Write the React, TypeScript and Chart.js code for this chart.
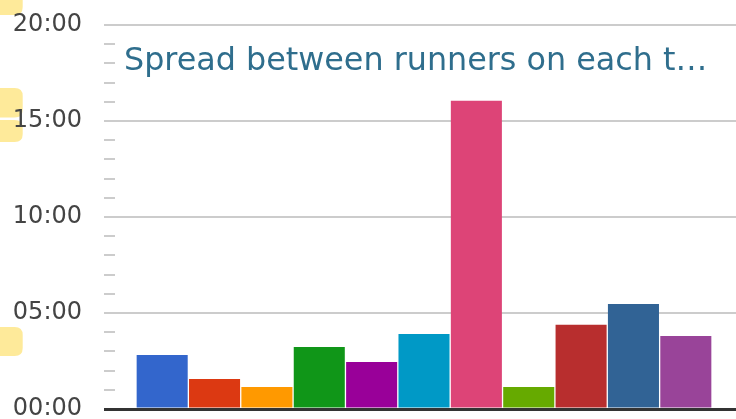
import React, { useEffect, useRef } from "react";
import { Chart, registerables } from "chart.js";

Chart.register(...registerables);

const categories = [""];
const seriesNames = [
  "Stage 1", "Stage 2", "Stage 3", "Stage 4", "Stage 5", "Stage 6",
  "Stage 7", "Stage 8", "Stage 9", "Stage 10", "Stage 11",
];
// spread in seconds
const spreadSeconds = [169, 94, 69, 194, 147, 234, 963, 69, 263, 328, 228];
const seriesColors = [
  "#3366cc", "#dc3912", "#ff9900", "#109618", "#990099", "#0099c6",
  "#dd4477", "#66aa00", "#b82e2e", "#316395", "#994499",
];
const yMax = 1200;
const yStep = 60;
const labelStep = 300;
const titleText = "Spread between runners on each t\u2026";

function fmt(sec: number): string {
  const m = Math.floor(sec / 60);
  const s = Math.round(sec % 60);
  return String(m).padStart(2, "0") + ":" + String(s).padStart(2, "0");
}

const decorPlugin = {
  id: "decor",
  beforeDraw(chart: any) {
    const { ctx } = chart;
    ctx.save();
    // yellow highlight tabs at left edge (behind labels)
    const blobs = [
      [-20, 15],
      [88, 117.5],
      [120, 142],
      [327, 356],
    ];
    ctx.fillStyle = "#feea9a";
    for (const [t, b] of blobs) {
      const r = 8;
      const x0 = -10;
      const x1 = 22.7;
      ctx.beginPath();
      ctx.moveTo(x0, t);
      ctx.lineTo(x1 - r, t);
      ctx.quadraticCurveTo(x1, t, x1, t + r);
      ctx.lineTo(x1, b - r);
      ctx.quadraticCurveTo(x1, b, x1 - r, b);
      ctx.lineTo(x0, b);
      ctx.closePath();
      ctx.fill();
    }
    ctx.restore();
  },
  beforeDatasetsDraw(chart: any) {
    const { ctx, chartArea, scales } = chart;
    const y = scales.y;
    ctx.save();
    ctx.strokeStyle = "#cccccc";
    ctx.lineWidth = 2;
    for (let v = yStep; v < yMax; v += yStep) {
      if (v % labelStep === 0) continue;
      const py = Math.round(y.getPixelForValue(v));
      ctx.beginPath();
      ctx.moveTo(chartArea.left, py);
      ctx.lineTo(chartArea.left + 11, py);
      ctx.stroke();
    }
    ctx.restore();
  },
  afterDraw(chart: any) {
    const { ctx } = chart;
    ctx.save();
    ctx.fillStyle = "#2f6e8d";
    ctx.font = '31.8px "DejaVu Sans"';
    ctx.textAlign = "left";
    ctx.textBaseline = "alphabetic";
    ctx.fillText(titleText, 124, 70);
    ctx.restore();
  },
};

export default function App() {
  const ref = useRef<HTMLCanvasElement | null>(null);
  useEffect(() => {
    if (!ref.current) return;
    const chart = new Chart(ref.current, {
      type: "bar",
      data: {
        labels: categories,
        datasets: seriesNames.map((name, i) => ({
          label: name,
          data: [spreadSeconds[i]],
          backgroundColor: seriesColors[i],
          borderWidth: 0,
          categoryPercentage: 0.9,
          barPercentage: 0.975,
        })),
      },
      options: {
        animation: false,
        responsive: false,
        devicePixelRatio: 1,
        layout: { padding: { top: 25, bottom: 31, left: 0, right: 0 } },
        plugins: {
          legend: { display: false },
          tooltip: { enabled: false },
          title: { display: false },
        },
        scales: {
          x: { display: false },
          y: {
            min: 0,
            max: yMax,
            afterFit(scale: any) {
              scale.width = 104;
              scale.paddingTop = 0;
              scale.paddingBottom = 0;
            },
            border: { display: false },
            grid: {
              drawTicks: false,
              color: (c: any) =>
                c.tick && c.tick.value === 0
                  ? "#333333"
                  : c.tick && c.tick.value % labelStep === 0
                  ? "#cccccc"
                  : "rgba(0,0,0,0)",
              lineWidth: (c: any) => (c.tick && c.tick.value === 0 ? 3 : 2),
            },
            ticks: {
              stepSize: yStep,
              autoSkip: false,
              padding: 22,
              color: "#444444",
              font: { family: "DejaVu Sans", size: 24 },
              callback: (v: any) => (Number(v) % labelStep === 0 ? fmt(Number(v)) : ""),
            },
          },
        },
      },
      plugins: [decorPlugin],
    });
    return () => chart.destroy();
  }, []);
  return (
    <div
      style={{
        position: "absolute",
        left: 0,
        top: 0,
        width: 736,
        height: 419,
        overflow: "hidden",
        background: "#ffffff",
      }}
    >
      <canvas ref={ref} width={744} height={440} style={{ display: "block" }} />
    </div>
  );
}
